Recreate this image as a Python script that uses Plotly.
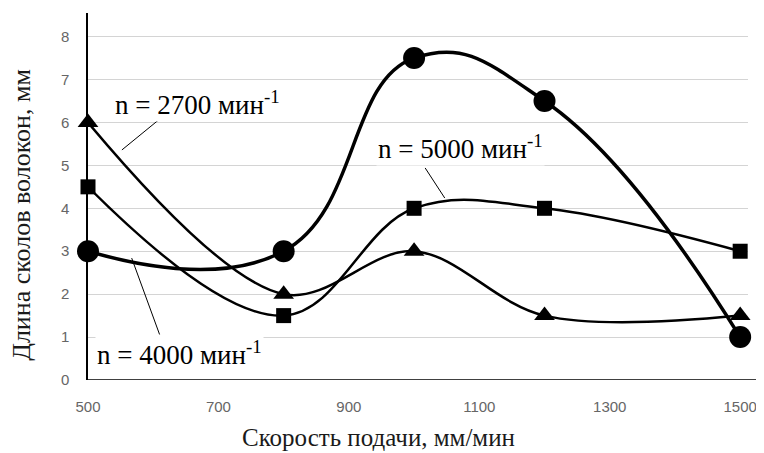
import plotly.graph_objects as go

feed = [500, 800, 1000, 1200, 1500]
len_4000 = [3.0, 3.0, 7.5, 6.5, 1.0]   # circles
len_5000 = [4.5, 1.5, 4.0, 4.0, 3.0]   # squares
len_2700 = [6.0, 2.0, 3.0, 1.5, 1.5]   # triangles

x_ticks = [500, 700, 900, 1100, 1300, 1500]
y_ticks = [0, 1, 2, 3, 4, 5, 6, 7, 8]

x_title = "Скорость подачи, мм/мин"
y_title = "Длина сколов волокон, мм"
lab_2700 = "n = 2700 мин<sup>-1</sup>"
lab_5000 = "n = 5000 мин<sup>-1</sup>"
lab_4000 = "n = 4000 мин<sup>-1</sup>"

fig = go.Figure()
fig.add_trace(go.Scatter(x=feed, y=len_2700, mode="lines+markers", cliponaxis=False,
                         line=dict(color="black", width=2.5, shape="spline", smoothing=1.0),
                         marker=dict(symbol="triangle-up", size=18, color="black")))
fig.add_trace(go.Scatter(x=feed, y=len_5000, mode="lines+markers", cliponaxis=False,
                         line=dict(color="black", width=2.5, shape="spline", smoothing=1.1),
                         marker=dict(symbol="square", size=15, color="black")))
fig.add_trace(go.Scatter(x=feed, y=len_4000, mode="lines+markers", cliponaxis=False,
                         line=dict(color="black", width=3.5, shape="spline", smoothing=1.3),
                         marker=dict(symbol="circle", size=22, color="black")))

serif = "Liberation Serif, Times New Roman, serif"
lab_font = dict(family=serif, size=27, color="black")

# leader lines
for (x0, y0, x1, y1) in [(610, 6.08, 552, 5.36), (1017, 4.94, 1047, 4.24), (610, 1.05, 567, 2.84)]:
    fig.add_shape(type="line", x0=x0, y0=y0, x1=x1, y1=y1, xref="x", yref="y",
                  line=dict(color="black", width=1))

# extended bottom axis line
fig.add_shape(type="line", x0=0, x1=1.03, y0=0, y1=0, xref="paper", yref="y",
              line=dict(color="black", width=1.5))

fig.add_annotation(x=538, y=6.45, xref="x", yref="y", text=lab_2700, showarrow=False,
                   xanchor="left", yanchor="middle", font=lab_font, bgcolor="white")
fig.add_annotation(x=942, y=5.42, xref="x", yref="y", text=lab_5000, showarrow=False,
                   xanchor="left", yanchor="middle", font=lab_font, bgcolor="white")
fig.add_annotation(x=510, y=0.62, xref="x", yref="y", text=lab_4000, showarrow=False,
                   xanchor="left", yanchor="middle", font=lab_font, bgcolor="white")

fig.add_annotation(x=0.44, y=0, xref="paper", yref="paper", yshift=-57, text=x_title,
                   showarrow=False, xanchor="center", yanchor="middle",
                   font=dict(family=serif, size=25, color="#1a1a1a"))
fig.add_annotation(x=0, y=0.45, xref="paper", yref="paper", xshift=-66, text=y_title,
                   showarrow=False, xanchor="center", yanchor="middle", textangle=-90,
                   font=dict(family=serif, size=26, color="#1a1a1a"))

fig.update_layout(
    width=756, height=445,
    margin=dict(l=80, r=16, t=5, b=73),
    paper_bgcolor="white", plot_bgcolor="white",
    showlegend=False,
    xaxis=dict(range=[500, 1512], tickvals=x_ticks, showgrid=False, zeroline=False,
               showline=False, ticks="", ticklabelstandoff=16,
               tickfont=dict(family="Liberation Sans, Arial, sans-serif", size=15, color="#666666")),
    yaxis=dict(range=[0, 8.55], tickvals=y_ticks, showgrid=True, gridcolor="#d4d4d4",
               gridwidth=1, zeroline=False, showline=True, linecolor="black", linewidth=1.5,
               ticks="", ticklabelstandoff=14,
               tickfont=dict(family="Liberation Sans, Arial, sans-serif", size=15, color="#666666")),
)

fig.write_html("out.html")
